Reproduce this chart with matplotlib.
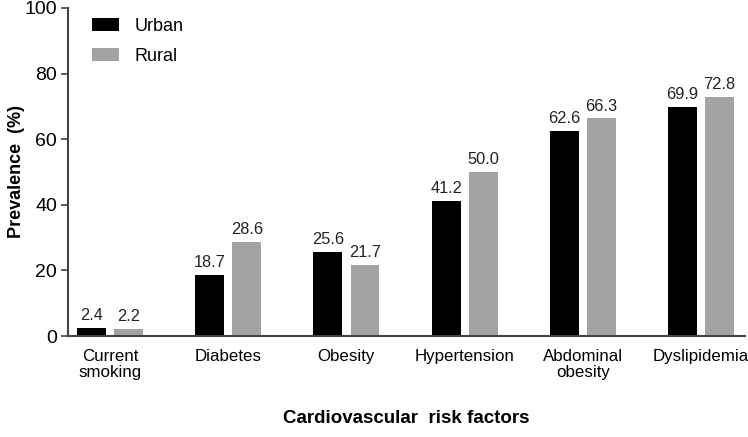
import numpy as np
import matplotlib.pyplot as plt

categories = ['Current\nsmoking', 'Diabetes', 'Obesity', 'Hypertension', 'Abdominal\nobesity', 'Dyslipidemia']
urban = [2.4, 18.7, 25.6, 41.2, 62.6, 69.9]
rural = [2.2, 28.6, 21.7, 50.0, 66.3, 72.8]

plt.rcParams['font.family'] = ['Liberation Sans', 'DejaVu Sans']

fig = plt.figure(figsize=(7.48, 4.37), dpi=100)
ax = fig.add_axes([0.091, 0.231, 0.905, 0.751])

x = np.arange(len(categories))
w = 0.245
off = 0.157
b1 = ax.bar(x - off, urban, w, color='black', label='Urban')
b2 = ax.bar(x + off, rural, w, color='#a3a3a3', label='Rural')

for bars, vals in [(b1, urban), (b2, rural)]:
    for b, v in zip(bars, vals):
        ax.text(b.get_x() + b.get_width() / 2, v + 1.5, f'{v:.1f}',
                ha='center', va='bottom', fontsize=11.8, color='#222222')

ax.set_xlim(-0.355, 5.372)
ax.set_ylim(0, 100)
ax.set_yticks([0, 20, 40, 60, 80, 100])
ax.set_xticks(x)
ax.set_xticklabels(categories, fontsize=12.2, linespacing=1.1)
ax.tick_params(axis='x', length=0, pad=9)
ax.tick_params(axis='y', labelsize=14, length=5, width=1.2, color='#444444', pad=3)
for s in ['top', 'right']:
    ax.spines[s].set_visible(False)
for s in ['left', 'bottom']:
    ax.spines[s].set_color('#444444')
    ax.spines[s].set_linewidth(1.5)

ax.set_ylabel('Prevalence  (%)', fontsize=13, fontweight='bold')
ax.yaxis.set_label_coords(-0.063, 0.5)
ax.set_xlabel('Cardiovascular  risk factors', fontsize=13.5, fontweight='bold', labelpad=22)

ax.legend(loc='upper left', bbox_to_anchor=(0.012, 1.02), frameon=False, fontsize=13,
          handlelength=1.45, handleheight=0.7, labelspacing=0.75, handletextpad=0.9)

fig.savefig('out.png', dpi=100)
